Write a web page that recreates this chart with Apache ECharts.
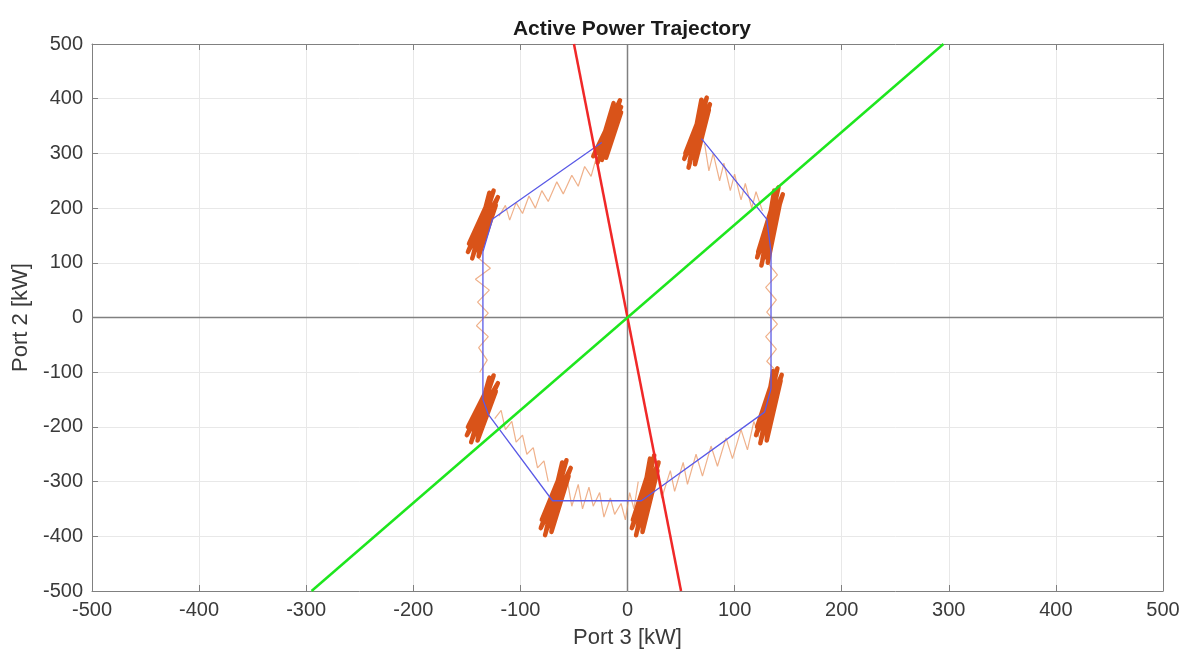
<!DOCTYPE html>
<html>
<head>
<meta charset="utf-8">
<script src="https://cdn.jsdelivr.net/npm/echarts@6/dist/echarts.min.js"></script>
<style>html,body{margin:0;padding:0;background:#fff}#c{width:1190px;height:657px}</style>
</head>
<body>
<div id="c"></div>
<script>
// ---- data (kW) ----
const axisTicks = [-500, -400, -300, -200, -100, 0, 100, 200, 300, 400, 500];
const redLine = [[-50, 500], [50, -500]];
const greenLine = [[-295, -500], [295, 500]];
const bluePath = [[69,327],[130,180],[134,120],[134,-130],[128,-173],[13,-335],[-70,-335],[-130,-177],[-135,-150],[-135,120],[-126,180],[-24,320]];
const orangeEdge1 = [[-120,185],[-114,205],[-110,178],[-104,210],[-98,190],[-92,222],[-86,200],[-80,232],[-74,212],[-66,248],[-60,226],[-52,260],[-46,240],[-40,276],[-34,258],[-28,300],[-22,290]];
const orangeEdge2 = [[-140,110],[-128,90],[-142,70],[-129,50],[-140,28],[-130,8],[-141,-15],[-130,-35],[-139,-55],[-131,-78],[-138,-100]];
const orangeEdge3 = [[-124,-185],[-118,-170],[-114,-205],[-108,-190],[-104,-228],[-98,-215],[-94,-250],[-88,-238],[-84,-275],[-78,-262],[-74,-300]];
const orangeEdge4 = [[-62,-330],[-56,-300],[-52,-345],[-46,-305],[-42,-350],[-36,-310],[-32,-345],[-26,-320],[-22,-365],[-16,-330],[-12,-360],[-6,-340],[-2,-370],[2,-320],[6,-350],[10,-300]];
const orangeEdge5 = [[20,-320],[28,-290],[32,-330],[40,-280],[44,-318],[52,-265],[56,-305],[64,-250],[70,-290],[78,-235],[84,-272],[92,-220],[98,-258],[106,-205],[112,-242],[118,-190],[124,-225]];
const orangeEdge6 = [[140,-100],[130,-80],[139,-58],[129,-35],[140,-12],[130,10],[139,32],[129,55],[140,78],[131,100]];
const orangeEdge7 = [[126,195],[120,230],[116,200],[110,245],[106,215],[100,262],[96,232],[90,282],[86,250],[80,300],[76,268],[72,318]];
const cluster1 = [[-28,283],[-7,397],[-32,295],[-6,385],[-27,300],[-13,392],[-20,292],[-6,375],[-28,310],[-9,380],[-24,288]];
const cluster2 = [[57,274],[74,402],[53,290],[77,390],[58,285],[69,398],[63,280],[76,380],[54,300],[71,385],[61,292]];
const cluster3 = [[125,95],[141,238],[121,110],[145,225],[126,105],[137,232],[131,100],[143,215],[122,120],[139,228],[129,110]];
const cluster4 = [[124,-230],[140,-93],[120,-215],[144,-105],[125,-222],[136,-98],[130,-225],[143,-115],[121,-200],[138,-100],[128,-210]];
const cluster5 = [[8,-398],[25,-252],[4,-385],[29,-265],[9,-390],[21,-258],[14,-392],[28,-280],[5,-370],[23,-262],[11,-380]];
const cluster6 = [[-77,-398],[-57,-261],[-81,-385],[-53,-275],[-76,-390],[-61,-265],[-71,-392],[-55,-290],[-80,-370],[-59,-270],[-74,-380]];
const cluster7 = [[-146,-228],[-125,-106],[-150,-215],[-121,-120],[-145,-222],[-129,-110],[-140,-225],[-123,-135],[-149,-200],[-127,-115],[-143,-212]];
const cluster8 = [[-145,108],[-125,232],[-149,120],[-121,220],[-144,115],[-129,228],[-139,112],[-123,205],[-148,135],[-127,225],[-141,125]];

const orangeEdges = [orangeEdge1, orangeEdge2, orangeEdge3, orangeEdge4, orangeEdge5, orangeEdge6, orangeEdge7];
const clusters = [cluster1, cluster2, cluster3, cluster4, cluster5, cluster6, cluster7, cluster8];

const chart = echarts.init(document.getElementById('c'));
const font = 'Liberation Sans, Arial, Helvetica, sans-serif';
const lineCol = '#808080';
function axis(pos, labels) {
  return {
    type: 'value', min: -500, max: 500, interval: 100, position: pos,
    axisLine: { show: true, onZero: false, lineStyle: { color: lineCol, width: 1 } },
    axisTick: { show: true, inside: true, length: 6, lineStyle: { color: lineCol } },
    axisLabel: { show: labels, color: '#3a3a3a', fontSize: 20, fontFamily: font, margin: 9 },
    splitLine: { show: labels, lineStyle: { color: '#e8e8e8', width: 1 } }
  };
}
const series = [];
series.push({ type: 'line', data: [[0,-500],[0,500]], symbol: 'none', lineStyle: { color: '#808080', width: 1.5 }, silent: true, z: 1 });
series.push({ type: 'line', data: [[-500,0],[500,0]], symbol: 'none', lineStyle: { color: '#808080', width: 1.5 }, silent: true, z: 1 });
orangeEdges.forEach(e => series.push({ type: 'line', data: e, symbol: 'none', lineStyle: { color: '#e8905a', width: 1.2, opacity: 0.7 }, z: 2 }));
clusters.forEach(c => series.push({ type: 'line', data: c, symbol: 'none', lineStyle: { color: '#d95319', width: 4.5, cap: 'round', join: 'round' }, z: 3 }));
series.push({ type: 'line', data: bluePath, symbol: 'none', lineStyle: { color: '#5a5ae6', width: 1.3 }, z: 4 });
series.push({ type: 'line', data: redLine, symbol: 'none', lineStyle: { color: '#f02828', width: 2.5 }, z: 5 });
series.push({ type: 'line', data: greenLine, symbol: 'none', lineStyle: { color: '#1ee61e', width: 2.5 }, z: 5 });

chart.setOption({
  animation: false,
  backgroundColor: '#fff',
  title: { text: 'Active Power Trajectory', left: 627, top: 14, textAlign: 'center',
    textStyle: { fontSize: 21, fontWeight: 'bold', color: '#1a1a1a', fontFamily: font } },
  grid: { left: 92, right: 27, top: 44, bottom: 66, containLabel: false },
  xAxis: [
    Object.assign(axis('bottom', true), { name: 'Port 3 [kW]', nameLocation: 'middle', nameGap: 36,
      nameTextStyle: { fontSize: 22, color: '#3a3a3a', fontFamily: font } }),
    axis('top', false)
  ],
  yAxis: [
    Object.assign(axis('left', true), { name: 'Port 2 [kW]', nameLocation: 'middle', nameGap: 59,
      nameTextStyle: { fontSize: 22, color: '#3a3a3a', fontFamily: font } }),
    axis('right', false)
  ],
  series: series
});
</script>
</body>
</html>
